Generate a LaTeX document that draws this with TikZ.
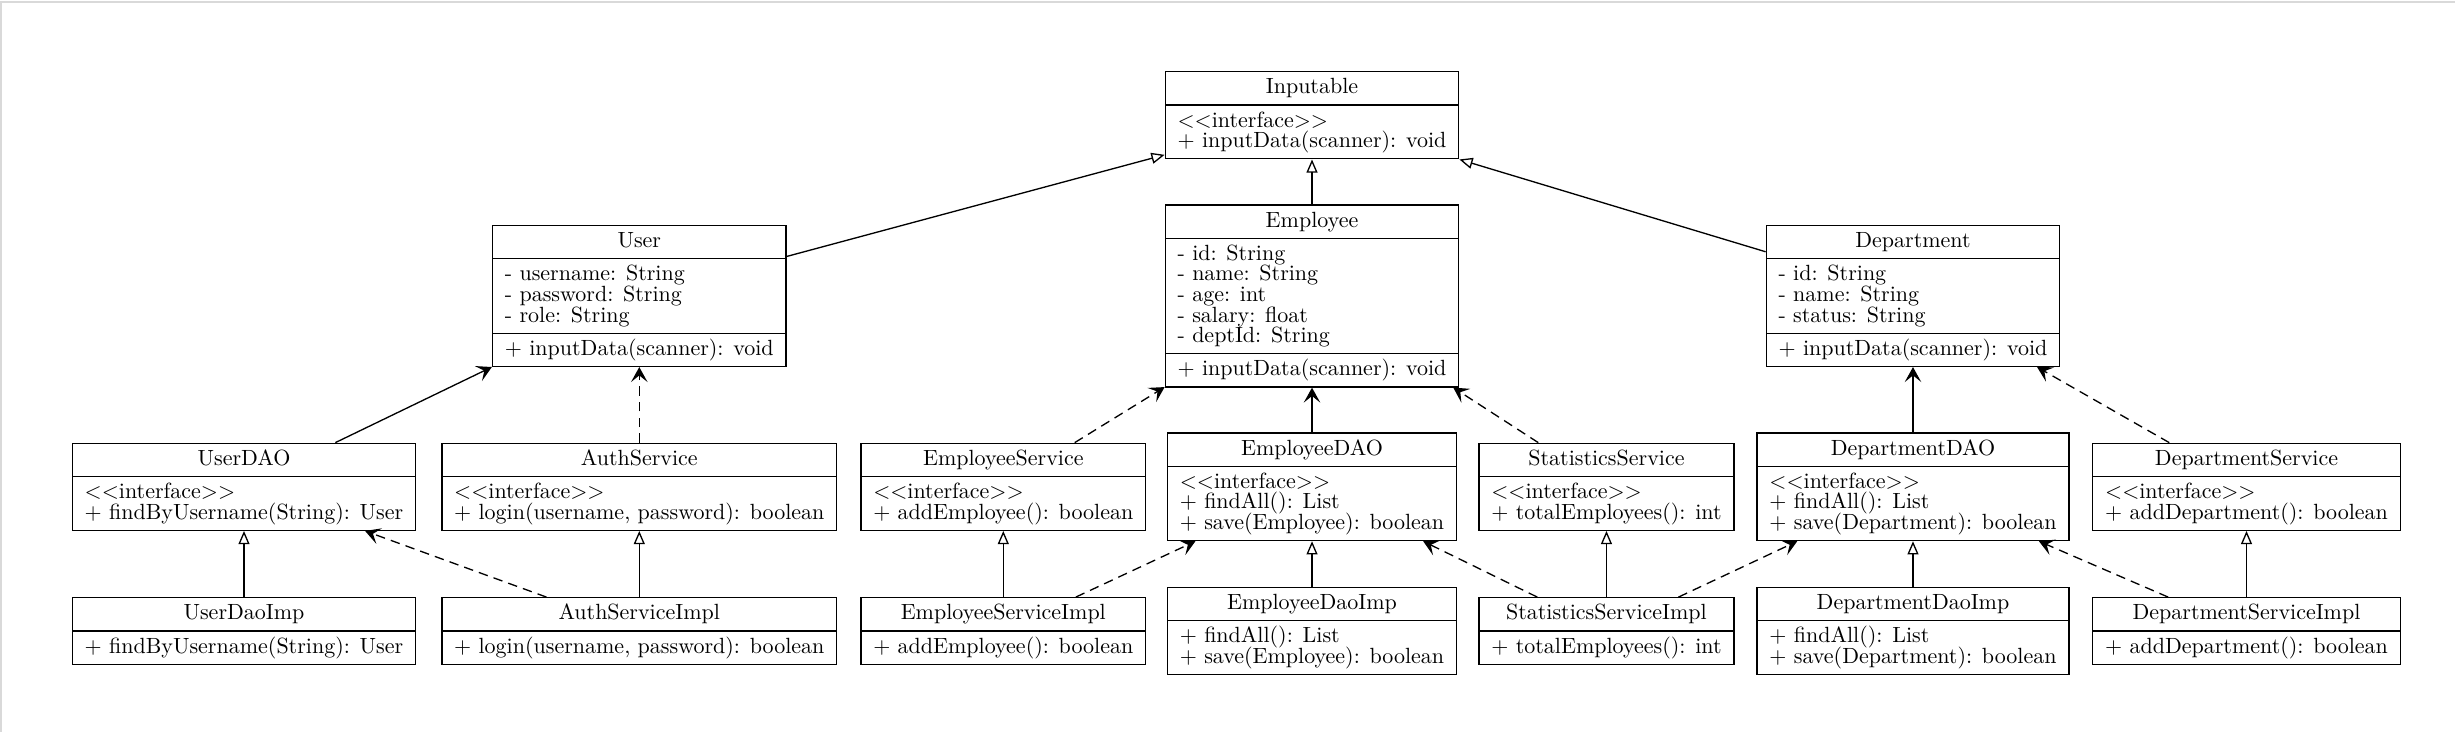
\documentclass[tikz,border=0pt]{standalone}
\usetikzlibrary{arrows.meta, shapes.multipart}

\newcommand{\cstrut}{\rule[-2.5pt]{0pt}{10pt}}
\newcommand{\stereo}{<\kern0pt<interface>\kern0pt>}
\setlength{\lineskiplimit}{-5pt}

\begin{document}
\begin{tikzpicture}[
    >={Stealth[length=6.8pt, width=7.5pt, inset=3pt]},
    cls/.style={draw, line width=0.6pt, rectangle split, rectangle split parts=3,
                rectangle split part align={center, left, left},
                align=left, inner xsep=5.6pt, inner ysep=2.25pt,
                font=\fontsize{10pt}{9.35pt}\selectfont},
    iface/.style={cls, rectangle split parts=2},
    gen/.style={-{Triangle[open, length=6pt, width=5pt]}, line width=0.6pt},
    assoc/.style={->, line width=0.6pt},
    dep/.style={->, line width=0.6pt, dash pattern=on 4.3pt off 2.8pt},
]
\useasboundingbox (0,0) rectangle (39.22,-11.694);
% edge of the screenshot
\draw[gray!30, line width=0.9pt] (39.22,-0.032) -- (0.016,-0.032) -- (0.016,-11.694);

% top
\node[iface] (inputable) at (20.96,-1.842)
  {\cstrut Inputable \nodepart{second}\cstrut\stereo\\+ inputData(scanner): void\cstrut};

% entities
\node[cls] (user) at (10.213,-4.729)
  {\cstrut User
   \nodepart{second}\cstrut - username: String\\- password: String\\- role: String\cstrut
   \nodepart{third}\cstrut + inputData(scanner): void};
\node[cls] (employee) at (20.96,-4.729)
  {\cstrut Employee
   \nodepart{second}\cstrut - id: String\\- name: String\\- age: int\\- salary: float\\- deptId: String\cstrut
   \nodepart{third}\cstrut + inputData(scanner): void};
\node[cls] (department) at (30.561,-4.729)
  {\cstrut Department
   \nodepart{second}\cstrut - id: String\\- name: String\\- status: String\cstrut
   \nodepart{third}\cstrut + inputData(scanner): void};

% interfaces
\node[iface] (userdao) at (3.898,-7.777)
  {\cstrut UserDAO \nodepart{second}\cstrut\stereo\\+ findByUsername(String): User\cstrut};
\node[iface] (authsvc) at (10.213,-7.777)
  {\cstrut AuthService \nodepart{second}\cstrut\stereo\\+ login(username, password): boolean\cstrut};
\node[iface] (empsvc) at (16.028,-7.777)
  {\cstrut EmployeeService \nodepart{second}\cstrut\stereo\\+ addEmployee(): boolean\cstrut};
\node[iface] (empdao) at (20.96,-7.777)
  {\cstrut EmployeeDAO \nodepart{second}\cstrut\stereo\\+ findAll(): List\\+ save(Employee): boolean\cstrut};
\node[iface] (statsvc) at (25.664,-7.777)
  {\cstrut StatisticsService \nodepart{second}\cstrut\stereo\\+ totalEmployees(): int\cstrut};
\node[iface] (deptdao) at (30.561,-7.777)
  {\cstrut DepartmentDAO \nodepart{second}\cstrut\stereo\\+ findAll(): List\\+ save(Department): boolean\cstrut};
\node[iface] (deptsvc) at (35.889,-7.777)
  {\cstrut DepartmentService \nodepart{second}\cstrut\stereo\\+ addDepartment(): boolean\cstrut};

% implementations
\node[iface] (userdaoimp) at (3.898,-10.08)
  {\cstrut UserDaoImp \nodepart{second}\cstrut + findByUsername(String): User};
\node[iface] (authimpl) at (10.213,-10.08)
  {\cstrut AuthServiceImpl \nodepart{second}\cstrut + login(username, password): boolean};
\node[iface] (empsvcimpl) at (16.028,-10.08)
  {\cstrut EmployeeServiceImpl \nodepart{second}\cstrut + addEmployee(): boolean};
\node[iface] (empdaoimp) at (20.96,-10.08)
  {\cstrut EmployeeDaoImp \nodepart{second}\cstrut + findAll(): List\\+ save(Employee): boolean\cstrut};
\node[iface] (statimpl) at (25.664,-10.08)
  {\cstrut StatisticsServiceImpl \nodepart{second}\cstrut + totalEmployees(): int};
\node[iface] (deptdaoimp) at (30.561,-10.08)
  {\cstrut DepartmentDaoImp \nodepart{second}\cstrut + findAll(): List\\+ save(Department): boolean\cstrut};
\node[iface] (deptsvcimpl) at (35.889,-10.08)
  {\cstrut DepartmentServiceImpl \nodepart{second}\cstrut + addDepartment(): boolean};

\draw[gen] (user) -- (inputable);
\draw[gen] (employee) -- (inputable);
\draw[gen] (department) -- (inputable);

\draw[assoc] (userdao) -- (user);
\draw[dep] (authsvc) -- (user);
\draw[dep] (empsvc) -- (employee);
\draw[assoc] (empdao) -- (employee);
\draw[dep] (statsvc) -- (employee);
\draw[assoc] (deptdao) -- (department);
\draw[dep] (deptsvc) -- (department);

\draw[gen] (userdaoimp) -- (userdao);
\draw[dep] (authimpl) -- (userdao);
\draw[gen] (authimpl) -- (authsvc);
\draw[gen] (empsvcimpl) -- (empsvc);
\draw[dep] (empsvcimpl) -- (empdao);
\draw[gen] (empdaoimp) -- (empdao);
\draw[dep] (statimpl) -- (empdao);
\draw[gen] (statimpl) -- (statsvc);
\draw[dep] (statimpl) -- (deptdao);
\draw[gen] (deptdaoimp) -- (deptdao);
\draw[dep] (deptsvcimpl) -- (deptdao);
\draw[gen] (deptsvcimpl) -- (deptsvc);
\end{tikzpicture}
\end{document}
